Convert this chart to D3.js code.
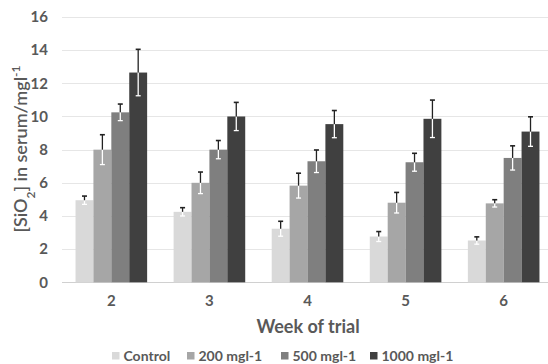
<!DOCTYPE html>
<html lang="en">
<head>
  <meta charset="UTF-8" />
  <title>SiO2 in serum</title>
  <style>
    body {
      margin: 0;
      background: #fff;
      font-family: Lato, "Open Sans", sans-serif;
    }
    .tick text {
      fill: #595959;
      font-weight: bold;
      font-family: Lato, "Open Sans", sans-serif;
    }
  </style>
  <script src="https://d3js.org/d3.v7.min.js"></script>
</head>
<body>
  <div id="chart"></div>
  <script>
    const width = 548;
    const height = 364;

    // data
    const weeks = ["2", "3", "4", "5", "6"];
    const series = ["Control", "200 mgl-1", "500 mgl-1", "1000 mgl-1"];
    const colors = ["#d9d9d9", "#a6a6a6", "#7f7f7f", "#404040"];
    const control = [4.95, 4.25, 3.23, 2.76, 2.52];
    const dose200 = [8.0, 6.0, 5.83, 4.8, 4.76];
    const dose500 = [10.25, 8.0, 7.3, 7.24, 7.5];
    const dose1000 = [12.65, 10.0, 9.54, 9.86, 9.09];
    const errControl = [0.25, 0.25, 0.45, 0.3, 0.22];
    const err200 = [0.9, 0.65, 0.75, 0.62, 0.22];
    const err500 = [0.5, 0.55, 0.68, 0.54, 0.73];
    const err1000 = [1.4, 0.85, 0.82, 1.13, 0.89];
    const yTicks = [0, 2, 4, 6, 8, 10, 12, 14, 16];

    const values = [control, dose200, dose500, dose1000];
    const errors = [errControl, err200, err500, err1000];

    const rows = [];
    weeks.forEach((w, i) => {
      series.forEach((s, j) => {
        rows.push({ week: w, series: s, idx: j, value: values[j][i], err: errors[j][i] });
      });
    });

    const svg = d3.select("#chart")
      .append("svg")
      .attr("width", width)
      .attr("height", height);

    const x0 = d3.scaleBand()
      .domain(weeks)
      .range([62, 553])
      .paddingInner(0.27)
      .paddingOuter(0.138);

    const x1 = d3.scaleBand()
      .domain(series)
      .range([0, x0.bandwidth()]);

    const y = d3.scaleLinear()
      .domain([0, 16])
      .range([282.3, 17]);

    // gridlines
    svg.append("g")
      .selectAll("line")
      .data(yTicks)
      .enter()
      .append("line")
      .attr("x1", 62)
      .attr("x2", width)
      .attr("y1", d => Math.round(y(d)) + 0.5)
      .attr("y2", d => Math.round(y(d)) + 0.5)
      .attr("stroke", d => d === 0 ? "#d0d0d0" : "#e6e6e6")
      .attr("stroke-width", 1);

    // y axis labels
    const yAxis = svg.append("g")
      .attr("transform", "translate(62,0)")
      .call(d3.axisLeft(y).tickValues(yTicks).tickSize(0).tickPadding(14));
    yAxis.select(".domain").remove();
    yAxis.selectAll("text").style("font-size", "15px");

    // x axis labels
    const xAxis = svg.append("g")
      .attr("transform", "translate(0,282)")
      .call(d3.axisBottom(x0).tickSize(0).tickPadding(13));
    xAxis.select(".domain").remove();
    xAxis.selectAll("text").style("font-size", "15px");

    // bars
    svg.append("g")
      .selectAll("rect")
      .data(rows)
      .enter()
      .append("rect")
      .attr("x", d => x0(d.week) + x1(d.series))
      .attr("y", d => y(d.value))
      .attr("width", x1.bandwidth())
      .attr("height", d => y(0) - y(d.value))
      .attr("fill", d => colors[d.idx]);

    // error bars: white inside the bar, dark above it
    const eb = svg.append("g")
      .selectAll("g")
      .data(rows)
      .enter()
      .append("g")
      .attr("transform", d => `translate(${x0(d.week) + x1(d.series) + x1.bandwidth() / 2},0)`);

    eb.append("line")
      .attr("y1", d => y(d.value - d.err))
      .attr("y2", d => y(d.value))
      .attr("stroke", "#ffffff")
      .attr("stroke-width", 1.3);
    eb.append("line")
      .attr("x1", -2.5).attr("x2", 2.5)
      .attr("y1", d => y(d.value - d.err))
      .attr("y2", d => y(d.value - d.err))
      .attr("stroke", "#ffffff")
      .attr("stroke-width", 1.3);
    eb.append("line")
      .attr("y1", d => y(d.value))
      .attr("y2", d => y(d.value + d.err))
      .attr("stroke", "#222")
      .attr("stroke-width", 1.3);
    eb.append("line")
      .attr("x1", -2.5).attr("x2", 2.5)
      .attr("y1", d => y(d.value + d.err))
      .attr("y2", d => y(d.value + d.err))
      .attr("stroke", "#222")
      .attr("stroke-width", 1.6);

    // x axis title
    svg.append("text")
      .attr("x", 308)
      .attr("y", 333)
      .attr("text-anchor", "middle")
      .attr("fill", "#595959")
      .style("font-size", "18px")
      .style("font-weight", "bold")
      .text("Week of trial");

    // y axis title
    const yt = svg.append("text")
      .attr("transform", "translate(27,149) rotate(-90)")
      .attr("text-anchor", "middle")
      .attr("fill", "#595959")
      .style("font-size", "18px")
      .style("font-weight", "600");
    yt.append("tspan").text("[SiO");
    yt.append("tspan").attr("baseline-shift", "sub").style("font-size", "12px").text("2");
    yt.append("tspan").text("] in serum/mgl");
    yt.append("tspan").attr("baseline-shift", "super").style("font-size", "12px").text("-1");

    // legend
    const legendX = [112, 187, 281, 370];
    const legend = svg.append("g")
      .selectAll("g")
      .data(series)
      .enter()
      .append("g")
      .attr("transform", (d, i) => `translate(${legendX[i]},356)`);
    legend.append("rect")
      .attr("x", 0)
      .attr("y", -4)
      .attr("width", 7.5)
      .attr("height", 7.5)
      .attr("fill", (d, i) => colors[i]);
    legend.append("text")
      .attr("x", 11.5)
      .attr("y", 5)
      .attr("fill", "#595959")
      .style("font-size", "14px")
      .style("font-weight", "bold")
      .text(d => d);
  </script>
</body>
</html>
